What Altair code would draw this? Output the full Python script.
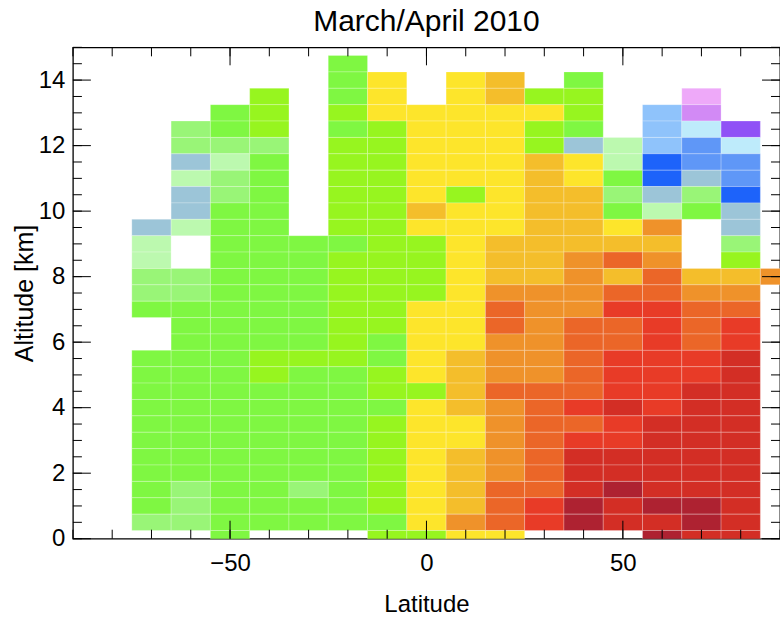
import altair as alt
import pandas as pd

# ---------------- data ----------------
TITLE = "March/April 2010"

# altitude rows (km), listed from top to bottom
ALTITUDES = [14.5, 14.0, 13.5, 13.0, 12.5, 12.0, 11.5, 11.0, 10.5, 10.0,
             9.5, 9.0, 8.5, 8.0, 7.5, 7.0, 6.5, 6.0, 5.5, 5.0,
             4.5, 4.0, 3.5, 3.0, 2.5, 2.0, 1.5, 1.0, 0.5, 0.0]

LATITUDES = [-70, -60, -50, -40, -30, -20, -10, 0, 10, 20, 30, 40, 50, 60, 70, 80, 90]

# colour class of each cell, top (14.5 km) to bottom (0 km); "." = no data
COL_M70 = ". . . . . . . . . . GB PG PG LG LG G . . G G G G G G G G G G LG .".split()
COL_M60 = ". . . . LG LG GB PG GB GB PG . . LG LG G G G G G G G G G G G LG LG LG .".split()
COL_M50 = ". . . G G LG PG LG LG G G G G G G G G G G G G G G G G G G G G G".split()
COL_M40 = ". . YG YG YG LG G G G G G G G G G G G G YG YG G G G G G G G G G .".split()
COL_M30 = ". . . . . . . . . . . G G G G G G G YG G G G G G G G LG G G .".split()
COL_M20 = "G G G YG G YG YG YG YG YG YG G YG YG YG YG YG YG YG G G G G G G G G G G .".split()
COL_M10 = ". Y Y Y YG YG YG YG YG YG YG YG YG YG YG YG YG G G YG YG G YG YG YG YG YG YG G YG".split()
COL_P00 = ". . . Y Y Y Y Y Y AM Y YG YG YG YG Y Y Y Y Y YG Y Y Y Y Y Y Y Y YG".split()
COL_P10 = ". Y Y Y Y Y Y Y YG Y Y Y Y Y Y Y Y Y AM AM AM AM Y Y AM AM AM AM O Y".split()
COL_P20 = ". AM AM Y Y Y Y Y Y Y Y AM AM AM O OR OR O O O OR O O O O O OR OR OR Y".split()
COL_P30 = ". . YG Y YG YG AM AM AM AM AM AM AM AM O O O O O O OR OR OR OR OR OR OR RD RD .".split()
COL_P40 = ". G YG YG G GB Y Y AM AM AM AM O O O O OR OR OR OR OR RD OR RD DR DR DR CR CR .".split()
COL_P50 = ". . . . . PG PG G LG G Y AM OR AM OR RD OR OR RD RD RD DR RD RD DR DR CR DR DR .".split()
COL_P60 = ". . . LB LB LB B B GB PG O AM O OR OR RD RD RD RD RD RD RD DR DR DR DR DR CR DR CR".split()
COL_P70 = ". . PK VI LC MB MB GB LG G . . . AM O OR OR OR RD RD DR DR DR DR DR DR DR CR CR DR".split()
COL_P80 = ". . . . PU LC MB MB B GB GB LG YG AM O OR RD RD DR DR DR DR DR DR DR DR DR DR DR DR".split()
COL_P90 = ". . . . . . . . . . . . . O . . . . . . . . . . . . . . . .".split()

COLUMNS = [COL_M70, COL_M60, COL_M50, COL_M40, COL_M30, COL_M20, COL_M10, COL_P00,
           COL_P10, COL_P20, COL_P30, COL_P40, COL_P50, COL_P60, COL_P70, COL_P80, COL_P90]

CLASS_CODES = ["CR", "DR", "RD", "OR", "O", "AM", "Y", "YG", "G", "LG", "PG",
               "GB", "LC", "LB", "MB", "B", "PU", "VI", "PK"]
CLASS_COLORS = ["#AE2231", "#D32E25", "#E83B27", "#EB6628", "#EF922A", "#F4BE2B",
                "#FDE52B", "#97F51F", "#7FF742", "#99F577", "#BCF9AF", "#9CC5D8",
                "#BEEBFB", "#8FC3FB", "#5F97F7", "#1D63FA", "#9051F6", "#D28AF5", "#EEA9F9"]

LAT_BIN = 10.0
ALT_BIN = 0.5

X_MAJOR = [-50, 0, 50]
X_MINOR = list(range(-90, 91, 10))
Y_MAJOR = [0, 2, 4, 6, 8, 10, 12, 14]
Y_MINOR = [v / 2 for v in range(0, 31)]

# ---------------- table ----------------
rows = []
for lat, col in zip(LATITUDES, COLUMNS):
    for alt_km, code in zip(ALTITUDES, col):
        if code == ".":
            continue
        rows.append({"lat": lat, "alt": alt_km, "code": code,
                     "x0": lat - LAT_BIN / 2, "x1": lat + LAT_BIN / 2,
                     "y0": alt_km - ALT_BIN / 2, "y1": alt_km + ALT_BIN / 2})
df = pd.DataFrame(rows)

W, H = 708, 492
FONT = "Liberation Sans"
MAJ, MIN = 18, 9

xscale = alt.Scale(domain=[-90, 90], nice=False, zero=False)
yscale = alt.Scale(domain=[0, 15], nice=False, zero=False)

x_axis = alt.Axis(values=X_MAJOR, ticks=False, domain=False, grid=False,
                  labelFontSize=24, labelFont=FONT, labelColor="black",
                  labelPadding=13, title="Latitude", titleFont=FONT,
                  titleFontSize=24, titleFontWeight="normal", titleColor="black",
                  titleY=73, titleX=W / 2, titleBaseline="alphabetic")
y_axis = alt.Axis(values=Y_MAJOR, ticks=False, domain=False, grid=False,
                  labelFontSize=24, labelFont=FONT, labelColor="black",
                  labelPadding=8, title="Altitude [km]", titleFont=FONT,
                  titleFontSize=25, titleFontWeight="normal", titleColor="black",
                  titleX=-40, titleY=H / 2, titleBaseline="alphabetic")

cells = alt.Chart(df).mark_rect(
    clip=True, stroke="#ffffff", strokeWidth=0.8, strokeOpacity=0.3
).encode(
    x=alt.X("x0:Q", scale=xscale, axis=x_axis, title="Latitude"),
    x2="x1:Q",
    y=alt.Y("y0:Q", scale=yscale, axis=y_axis, title="Altitude [km]"),
    y2="y1:Q",
    color=alt.Color("code:N", scale=alt.Scale(domain=CLASS_CODES, range=CLASS_COLORS),
                    legend=None),
)

xmaj = pd.DataFrame({"v": X_MAJOR})
xmin = pd.DataFrame({"v": X_MINOR})
ymaj = pd.DataFrame({"v": Y_MAJOR})
ymin = pd.DataFrame({"v": Y_MINOR})


def xticks(data, length):
    enc_x = alt.X("v:Q", scale=xscale, axis=x_axis, title="Latitude")
    top = alt.Chart(data).mark_rule(color="black", strokeWidth=1).encode(
        x=enc_x, y=alt.value(0), y2=alt.value(length))
    bot = alt.Chart(data).mark_rule(color="black", strokeWidth=1).encode(
        x=enc_x, y=alt.value(H), y2=alt.value(H - length))
    return [top, bot]


def yticks(data, length):
    enc_y = alt.Y("v:Q", scale=yscale, axis=y_axis, title="Altitude [km]")
    left = alt.Chart(data).mark_rule(color="black", strokeWidth=1).encode(
        y=enc_y, x=alt.value(0), x2=alt.value(length))
    right = alt.Chart(data).mark_rule(color="black", strokeWidth=1).encode(
        y=enc_y, x=alt.value(W), x2=alt.value(W - length))
    return [left, right]


layers = [cells] + xticks(xmin, MIN) + xticks(xmaj, MAJ) + yticks(ymin, MIN) + yticks(ymaj, MAJ)

chart = alt.layer(*layers).properties(
    width=W, height=H,
    title=alt.TitleParams(TITLE, fontSize=30, font=FONT, fontWeight="normal",
                          color="black", anchor="middle", offset=10),
    padding={"left": 73, "top": 47, "right": 0, "bottom": 79},
    autosize=alt.AutoSizeParams(type="none"),
).configure_view(stroke="black", strokeWidth=1.3)

chart.save("out.html", embed_options={"renderer": "svg", "actions": False})
